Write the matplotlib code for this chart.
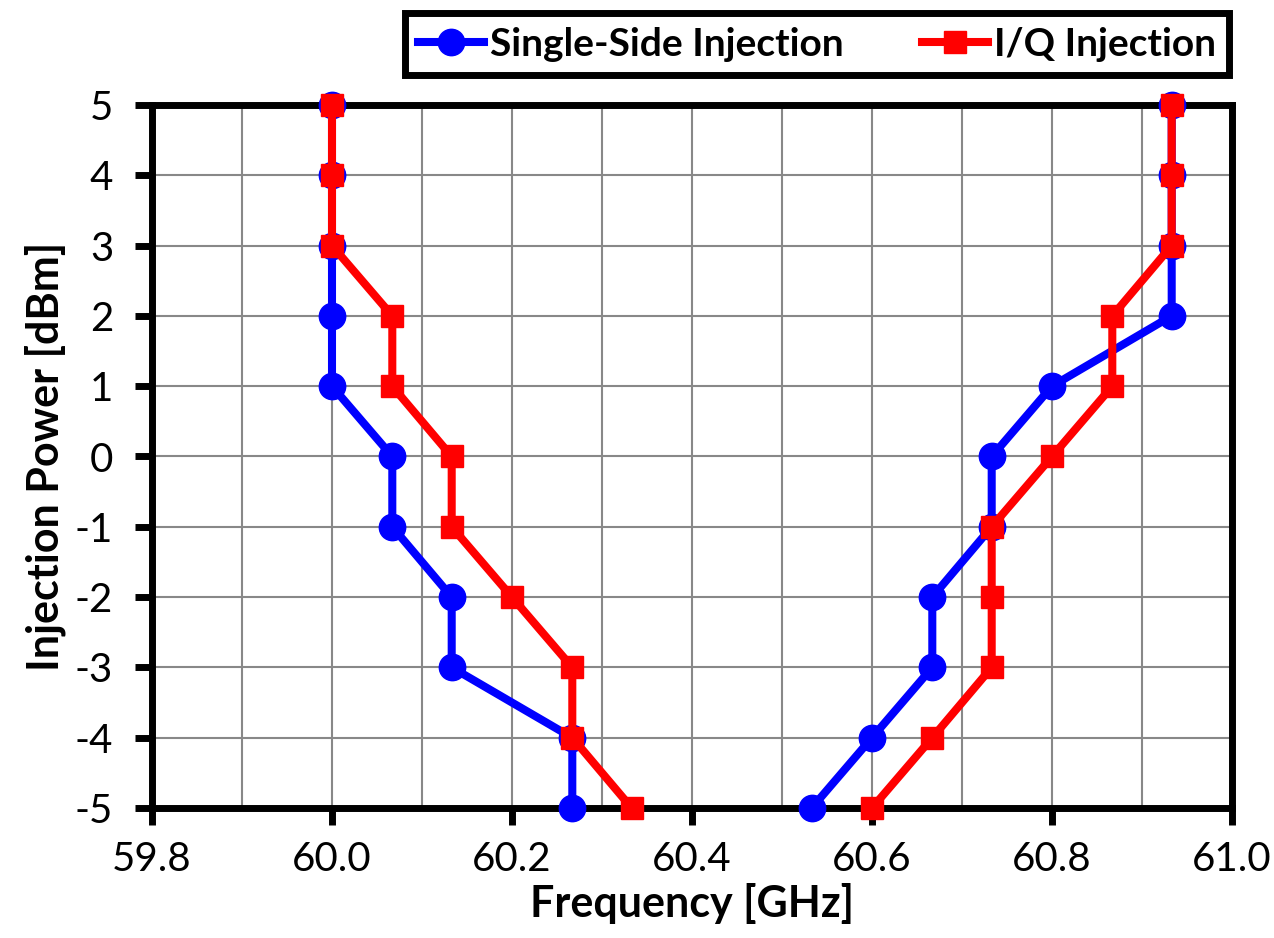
import matplotlib
matplotlib.use("Agg")
import matplotlib.pyplot as plt
from matplotlib.ticker import MultipleLocator
from matplotlib.lines import Line2D

plt.rcParams['font.family'] = ['Lato', 'DejaVu Sans']
plt.rcParams['axes.unicode_minus'] = False

power = [5, 4, 3, 2, 1, 0, -1, -2, -3, -4, -5]
ss_left = [60.0, 60.0, 60.0, 60.0, 60.0, 60.067, 60.067, 60.133, 60.133, 60.267, 60.267]
ss_right = [60.933, 60.933, 60.933, 60.933, 60.8, 60.733, 60.733, 60.667, 60.667, 60.6, 60.533]
iq_left = [60.0, 60.0, 60.0, 60.067, 60.067, 60.133, 60.133, 60.2, 60.267, 60.267, 60.333]
iq_right = [60.933, 60.933, 60.933, 60.867, 60.867, 60.8, 60.733, 60.733, 60.733, 60.667, 60.6]
labels = ["Single-Side Injection", "I/Q Injection"]

fig = plt.figure(figsize=(12.74, 9.38), dpi=100)
ax = fig.add_axes([152/1274, 1-808/938, (1232-152)/1274, (808-105)/938])

blue = "#0000FF"
red = "#FF0000"
kw_b = dict(color=blue, lw=5.8, marker='o', markersize=19, clip_on=False, zorder=3)
kw_r = dict(color=red, lw=5.8, marker='s', markersize=15.5, clip_on=False, zorder=4)
ax.plot(ss_left, power, **kw_b)
ax.plot(ss_right, power, **kw_b)
ax.plot(iq_left, power, **kw_r)
ax.plot(iq_right, power, **kw_r)

ax.set_xlim(59.8, 61.0)
ax.set_ylim(-5, 5)
ax.xaxis.set_major_locator(MultipleLocator(0.2))
ax.xaxis.set_minor_locator(MultipleLocator(0.1))
ax.yaxis.set_major_locator(MultipleLocator(1))
ax.xaxis.set_major_formatter(matplotlib.ticker.FormatStrFormatter('%.1f'))
ax.grid(True, which='both', color='#888888', lw=1.5, zorder=1)
ax.set_axisbelow(True)
for s in ax.spines.values():
    s.set_linewidth(5)
    s.set_color('black')
    s.set_zorder(2.5)
ax.tick_params(axis='both', which='major', direction='out', length=12, width=5,
               labelsize=29)
ax.tick_params(axis='y', pad=16)
ax.tick_params(axis='x', pad=12)
ax.tick_params(axis='x', which='minor', length=0)
ax.set_xlabel("Frequency [GHz]", fontsize=31, fontweight='bold', labelpad=3)
ax.set_ylabel("Injection Power [dBm]", fontsize=31, fontweight='bold', labelpad=6)

handles = [Line2D([], [], color=blue, lw=5.8, marker='o', markersize=19),
           Line2D([], [], color=red, lw=5.8, marker='s', markersize=15.5)]
leg = fig.legend(handles, labels, loc='center', ncol=2,
                 bbox_to_anchor=(817/1274, 1-44/938),
                 prop={'weight': 'bold', 'size': 28},
                 frameon=True, fancybox=False, edgecolor='black', framealpha=1,
                 handlelength=1.7, handletextpad=0.15, columnspacing=2.0,
                 borderpad=0.35, borderaxespad=0)
leg.get_frame().set_linewidth(5)

fig.savefig("out.png", dpi=100)
